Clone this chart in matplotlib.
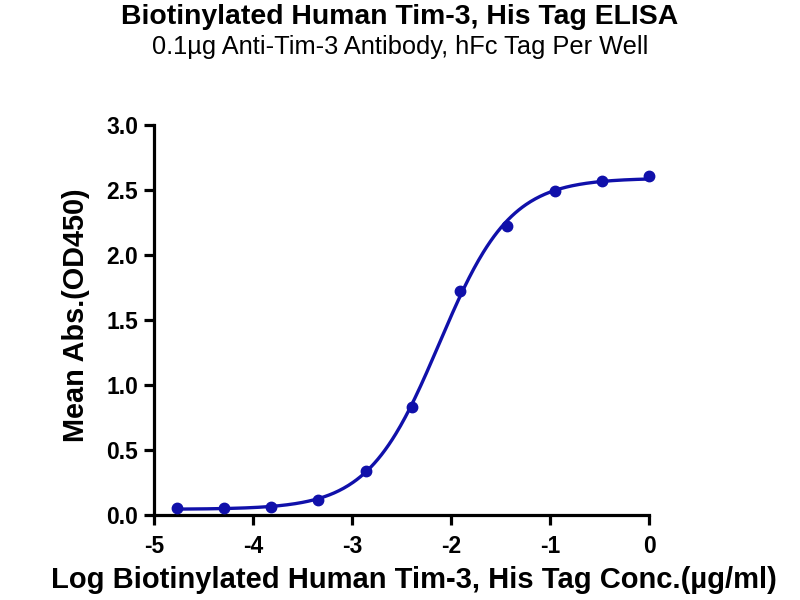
import numpy as np
import matplotlib
matplotlib.use("Agg")
import matplotlib.pyplot as plt

# data (3-fold dilutions from 1 ug/ml)
log_conc = [-4.77, -4.29, -3.82, -3.34, -2.86, -2.39, -1.91, -1.43, -0.95, -0.48, 0.0]
mean_abs = [0.055, 0.056, 0.064, 0.115, 0.34, 0.83, 1.72, 2.22, 2.49, 2.57, 2.61]

title = "Biotinylated Human Tim-3, His Tag ELISA"
subtitle = "0.1\u00b5g Anti-Tim-3 Antibody, hFc Tag Per Well"
xlabel = "Log Biotinylated Human Tim-3, His Tag Conc.(\u00b5g/ml)"
ylabel = "Mean Abs.(OD450)"
color = "#1010aa"

plt.rcParams['font.family'] = ['Liberation Sans', 'DejaVu Sans']


def fit_4pl(x, y):
    # grid over logEC50 and hill, bottom/top by linear least squares
    x = np.asarray(x)
    y = np.asarray(y)
    best = None
    for ec50 in np.linspace(-3.0, -1.5, 151):
        for hill in np.linspace(0.6, 2.0, 141):
            s = 1.0 / (1.0 + 10 ** ((ec50 - x) * hill))
            A = np.column_stack([1 - s, s])
            coef, *_ = np.linalg.lstsq(A, y, rcond=None)
            err = np.sum((A @ coef - y) ** 2)
            if best is None or err < best[0]:
                best = (err, coef[0], coef[1], ec50, hill)
    return best[1:]


bottom, top, ec50, hill = fit_4pl(log_conc, mean_abs)
xs = np.linspace(min(log_conc), max(log_conc), 400)
ys = bottom + (top - bottom) / (1 + 10 ** ((ec50 - xs) * hill))

fig = plt.figure(figsize=(8, 6), dpi=100)
ax = fig.add_axes([0.1925, 0.1417, 0.6188, 0.65])

ax.plot(xs, ys, color=color, lw=2.4, zorder=2)
ax.plot(log_conc, mean_abs, 'o', color=color, ms=7.5, zorder=3, clip_on=False)

ax.set_xlim(-5, 0)
ax.set_ylim(0, 3.0)
ax.set_xticks([-5, -4, -3, -2, -1, 0])
ax.set_xticklabels(["-5", "-4", "-3", "-2", "-1", "0"])
ax.set_yticks([0, 0.5, 1.0, 1.5, 2.0, 2.5, 3.0])
ax.set_yticklabels(["0.0", "0.5", "1.0", "1.5", "2.0", "2.5", "3.0"])

for side in ["top", "right"]:
    ax.spines[side].set_visible(False)
for side in ["left", "bottom"]:
    ax.spines[side].set_linewidth(2.3)

ax.tick_params(axis="both", width=2.3, length=7.5, direction="out",
               labelsize=16.5)
ax.tick_params(axis="x", pad=7)
ax.tick_params(axis="y", pad=4)
for lab in ax.get_xticklabels() + ax.get_yticklabels():
    lab.set_fontweight("bold")

ax.set_xlabel(xlabel, fontsize=21, fontweight="bold")
ax.set_ylabel(ylabel, fontsize=20.8, fontweight="bold")
ax.xaxis.set_label_coords(0.525, -0.13)
ax.yaxis.set_label_coords(-0.129, 0.513)

fig.text(0.5, 0.971, title, ha="center", va="center", fontsize=20.4, fontweight="bold")
fig.text(0.5, 0.921, subtitle, ha="center", va="center", fontsize=18.3)

fig.savefig("out.png", dpi=100)
